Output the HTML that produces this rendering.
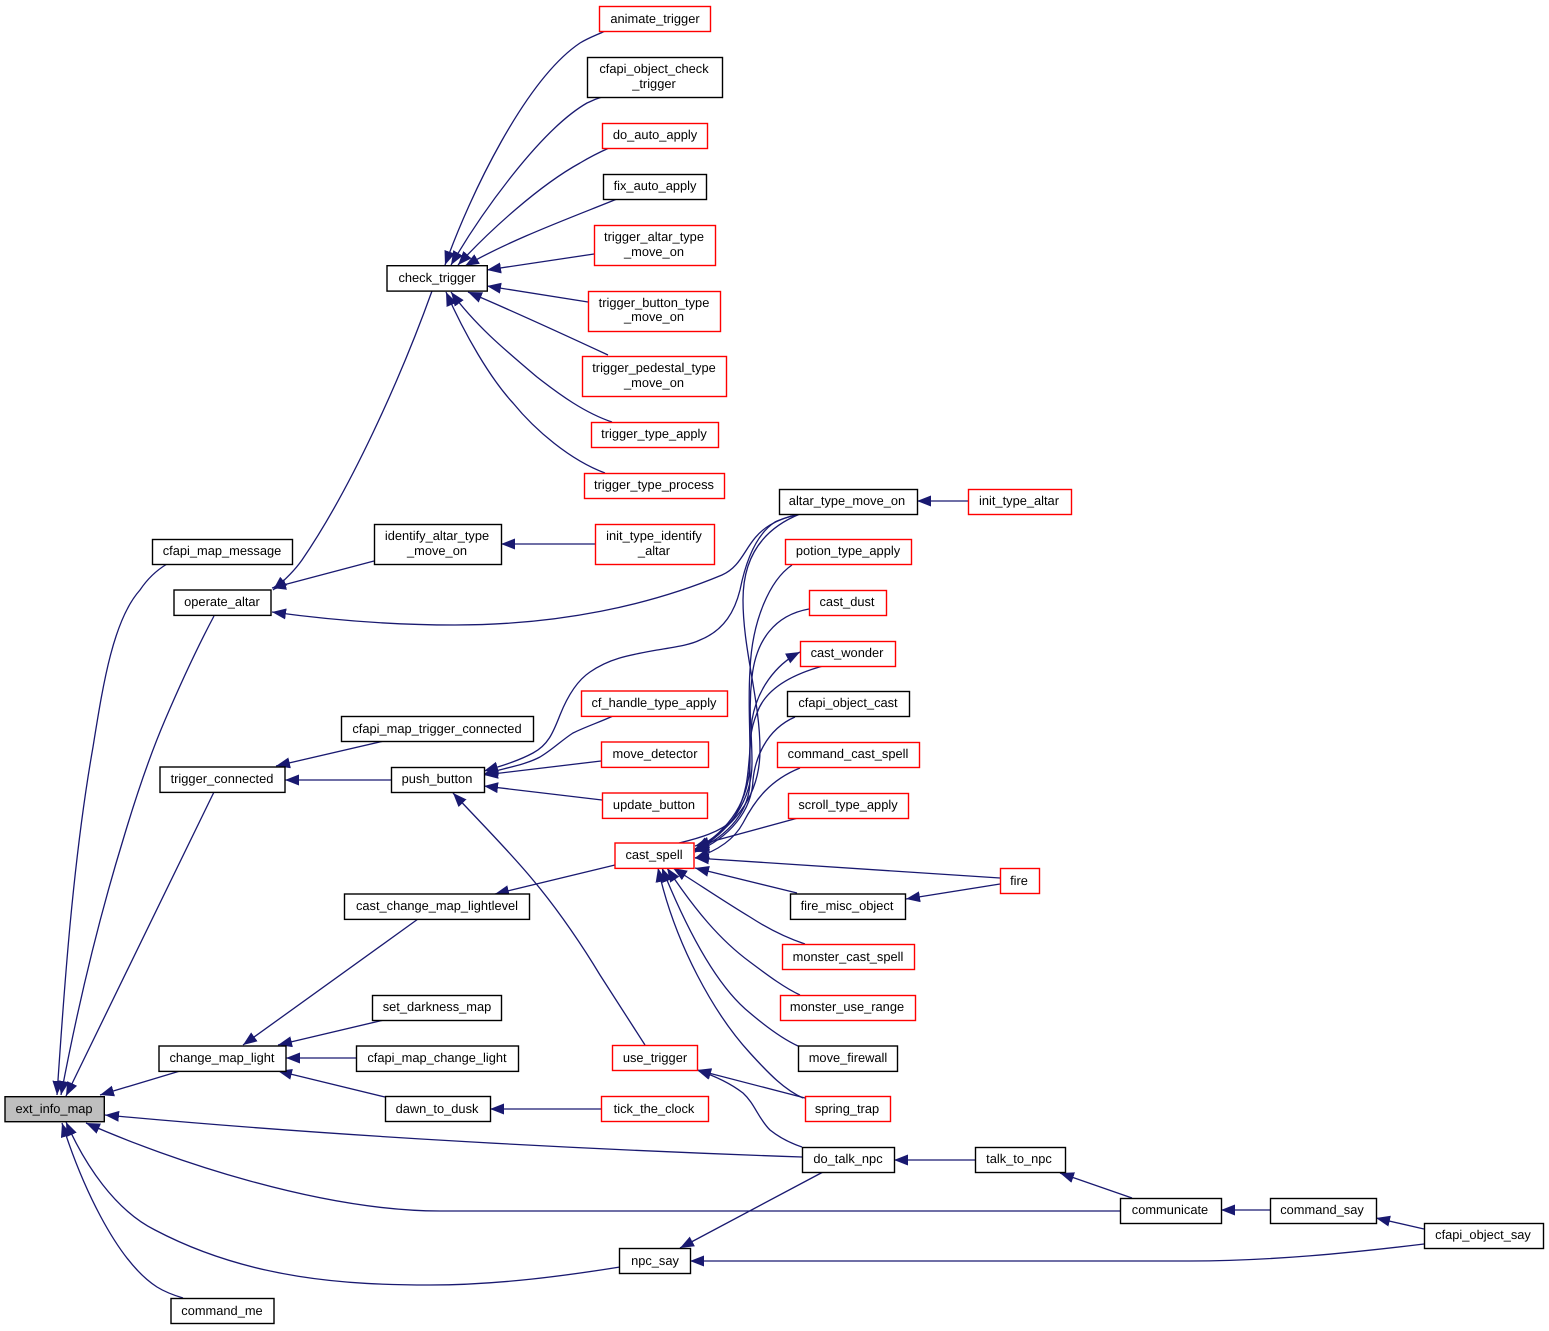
<!DOCTYPE html>
<html><head><meta charset="utf-8"><style>
html,body{margin:0;padding:0;background:#fff}
svg{display:block}
text{font-family:"Liberation Sans",sans-serif;font-size:12.85px;text-anchor:middle;fill:#000;text-rendering:geometricPrecision}
.e{fill:none;stroke:#191970;stroke-width:1.3;marker-start:url(#a)}
rect{stroke-width:1.4;fill:#fff;stroke:#000}
rect.r{stroke:#f00}
rect.g{fill:#bfbfbf}
</style></head><body>
<svg width="1549" height="1331" viewBox="0 0 1549 1331" xmlns="http://www.w3.org/2000/svg">
<defs><marker id="a" markerUnits="userSpaceOnUse" markerWidth="15" markerHeight="12" refX="14" refY="5.5" orient="auto-start-reverse"><path d="M0,0L14,5.5L0,11z" fill="#191970"/></marker></defs>
<path class="e" d="M57,1095C64,990 73,860 93,747C103,685 113,620 140,590C148,578 157,570 167,564"/>
<path class="e" d="M61,1095C78,1005 100,915 123,840C137,793 150,755 165,720C180,685 197,648 214,616"/>
<path class="e" d="M66,1096L214,792"/>
<path class="e" d="M100,1095L180,1071"/>
<path class="e" d="M105,1115C340,1137 600,1150 802,1157"/>
<path class="e" d="M86,1123C170,1160 320,1211 440,1211L1120,1211"/>
<path class="e" d="M66,1122C85,1165 115,1210 155,1230C250,1280 350,1285 430,1285C500,1285 570,1275 620,1267"/>
<path class="e" d="M62,1123C80,1180 115,1260 157,1287C165,1292 173,1295 183,1298"/>
<path class="e" d="M273,590C285,580 295,570 302,560C350,490 400,380 432,291"/>
<path class="e" d="M272,588L374,561"/>
<path class="e" d="M272,612C330,620 390,625 455,625C560,625 650,605 722,575C745,565 745,540 770,525C780,519 790,516 800,514"/>
<path class="e" d="M445,265C470,195 525,80 580,43C590,37 597,35 605,31"/>
<path class="e" d="M451,265C480,215 540,130 587,103C594,100 597,98 603,97"/>
<path class="e" d="M458,265C490,230 540,185 580,163C590,157 600,152 609,148"/>
<path class="e" d="M465,266C510,240 570,218 617,199"/>
<path class="e" d="M487,270L594,254"/>
<path class="e" d="M487,286L588,302"/>
<path class="e" d="M468,292C515,312 565,335 608,355"/>
<path class="e" d="M451,292C475,325 505,350 537,377C560,395 585,413 612,422"/>
<path class="e" d="M446,292C465,335 490,378 513,403C535,430 570,460 605,473"/>
<path class="e" d="M501,544L595,544"/>
<path class="e" d="M917,501L968,501"/>
<path class="e" d="M276,766L384,741"/>
<path class="e" d="M285,780L391,780"/>
<path class="e" d="M484,771C505,765 520,760 533,753C548,745 553,733 560,715C568,695 578,680 590,672C610,658 630,655 657,650C675,647 690,645 700,640C725,630 735,610 740,590C745,565 755,535 775,522C783,518 792,516 800,514"/>
<path class="e" d="M484,774C505,768 525,765 540,757C552,750 562,740 573,733C585,727 600,722 613,716"/>
<path class="e" d="M484,775L601,761"/>
<path class="e" d="M484,786L602,800"/>
<path class="e" d="M453,793C480,822 510,852 533,880C560,912 585,950 600,975L645,1045"/>
<path class="e" d="M495,894L615,865"/>
<path class="e" d="M243,1045L418,919"/>
<path class="e" d="M278,1045L384,1020"/>
<path class="e" d="M286,1058L356,1058"/>
<path class="e" d="M278,1071L385,1097"/>
<path class="e" d="M490,1109L601,1109"/>
<path class="e" d="M800,652C775,665 757,690 752,720C748,770 750,790 733,820C720,832 700,838 679,843"/>
<path class="e" d="M695,849C730,830 760,800 760,750C760,700 743,650 743,600C743,560 760,530 800,514"/>
<path class="e" d="M695,850C730,830 750,800 750,760C750,720 748,700 750,670C752,620 770,580 792,565"/>
<path class="e" d="M695,851C730,832 752,800 752,763C752,730 748,710 752,677C756,640 775,615 809,609"/>
<path class="e" d="M695,851C730,835 750,810 750,780C750,750 748,735 757,713C765,690 790,675 823,666"/>
<path class="e" d="M695,852C730,838 752,810 753,780C755,760 765,730 795,717"/>
<path class="e" d="M695,858C720,850 735,838 743,823C755,800 770,780 800,768"/>
<path class="e" d="M695,846L798,818"/>
<path class="e" d="M695,858L1000,878"/>
<path class="e" d="M695,868L797,893"/>
<path class="e" d="M906,899L1000,884"/>
<path class="e" d="M673,868C700,885 725,902 750,917C770,930 790,939 805,944"/>
<path class="e" d="M667,868C695,910 720,940 750,962C770,977 785,988 800,995"/>
<path class="e" d="M662,868C685,925 715,985 750,1013C770,1030 785,1040 798,1046"/>
<path class="e" d="M658,868C675,945 715,1015 750,1053C770,1075 785,1090 803,1098"/>
<path class="e" d="M697,1070L805,1098"/>
<path class="e" d="M697,1070C715,1076 730,1083 743,1093C755,1104 758,1118 770,1130C780,1138 790,1143 802,1147"/>
<path class="e" d="M894,1160L975,1160"/>
<path class="e" d="M1060,1173L1132,1198"/>
<path class="e" d="M1221,1210L1270,1210"/>
<path class="e" d="M1376,1218L1424,1229"/>
<path class="e" d="M680,1248L823,1172"/>
<path class="e" d="M690,1261L1190,1261C1270,1261 1350,1253 1424,1244"/>

<rect class="r" x="599.5" y="6.5" width="111" height="25"/><text x="655" y="23">animate_trigger</text>
<rect x="587.5" y="57.5" width="135" height="40"/><text x="654" y="73">cfapi_object_check</text><text x="654" y="88">_trigger</text>
<rect class="r" x="602.5" y="123.5" width="105" height="25"/><text x="655" y="139">do_auto_apply</text>
<rect x="603.5" y="174.5" width="103" height="25"/><text x="655" y="190">fix_auto_apply</text>
<rect class="r" x="594.5" y="225.5" width="121" height="40"/><text x="654" y="241">trigger_altar_type</text><text x="654" y="256">_move_on</text>
<rect class="r" x="588.5" y="291.5" width="132" height="40"/><text x="654" y="307">trigger_button_type</text><text x="654" y="321">_move_on</text>
<rect class="r" x="582.5" y="356.5" width="144" height="40"/><text x="654" y="372">trigger_pedestal_type</text><text x="654" y="387">_move_on</text>
<rect class="r" x="591.5" y="422.5" width="127" height="25"/><text x="654" y="438">trigger_type_apply</text>
<rect class="r" x="584.5" y="473.5" width="140" height="25"/><text x="654" y="489">trigger_type_process</text>
<rect x="387" y="265.7" width="100.3" height="25.4"/><text x="437" y="282">check_trigger</text>
<rect x="779.5" y="489.5" width="138" height="25"/><text x="847" y="505">altar_type_move_on</text>
<rect class="r" x="968.5" y="489.5" width="103" height="25"/><text x="1019" y="505">init_type_altar</text>
<rect class="r" x="785.5" y="539.5" width="126" height="25"/><text x="848" y="555">potion_type_apply</text>
<rect class="r" x="809.5" y="590.5" width="77" height="25"/><text x="847" y="606">cast_dust</text>
<rect class="r" x="800.5" y="641.5" width="95" height="25"/><text x="847" y="657">cast_wonder</text>
<rect x="787.5" y="691.5" width="122" height="25"/><text x="848" y="707">cfapi_object_cast</text>
<rect class="r" x="777.5" y="742.5" width="142" height="25"/><text x="848" y="758">command_cast_spell</text>
<rect class="r" x="788.5" y="793.5" width="120" height="25"/><text x="848" y="809">scroll_type_apply</text>
<rect class="r" x="1000.5" y="868.5" width="39" height="25"/><text x="1019" y="885">fire</text>
<rect x="790.5" y="894" width="115" height="25.4"/><text x="847" y="910">fire_misc_object</text>
<rect class="r" x="782.5" y="944.5" width="132" height="25"/><text x="848" y="961">monster_cast_spell</text>
<rect class="r" x="780.5" y="995.5" width="135" height="25"/><text x="847" y="1011">monster_use_range</text>
<rect x="798.5" y="1046" width="99" height="25.4"/><text x="848" y="1062">move_firewall</text>
<rect class="r" x="805.5" y="1096.5" width="85" height="25"/><text x="847" y="1113">spring_trap</text>
<rect x="802.5" y="1147.5" width="92" height="25"/><text x="848" y="1163">do_talk_npc</text>
<rect x="975.5" y="1147.5" width="90" height="25"/><text x="1019" y="1163">talk_to_npc</text>
<rect x="1120.5" y="1198.5" width="101" height="25"/><text x="1170" y="1214">communicate</text>
<rect x="1270.5" y="1198.5" width="106" height="25"/><text x="1322" y="1214">command_say</text>
<rect x="1424.5" y="1223.5" width="119" height="25"/><text x="1483" y="1239">cfapi_object_say</text>
<rect class="r" x="615" y="843" width="79" height="25.4"/><text x="654" y="859">cast_spell</text>
<rect class="r" x="612.5" y="1045.5" width="85" height="25"/><text x="655" y="1062">use_trigger</text>
<rect class="r" x="601.5" y="1096.5" width="107" height="25"/><text x="654" y="1113">tick_the_clock</text>
<rect x="619.5" y="1248.5" width="71" height="25"/><text x="655" y="1265">npc_say</text>
<rect class="r" x="581.5" y="691" width="146" height="25.4"/><text x="654" y="707">cf_handle_type_apply</text>
<rect class="r" x="601.5" y="742" width="107" height="25.4"/><text x="655" y="758">move_detector</text>
<rect class="r" x="602.5" y="793" width="105" height="25.4"/><text x="654" y="809">update_button</text>
<rect class="r" x="595.5" y="524.5" width="119" height="40"/><text x="654" y="540">init_type_identify</text><text x="654" y="555">_altar</text>
<rect x="374.5" y="524.5" width="127" height="40"/><text x="437" y="540">identify_altar_type</text><text x="437" y="555">_move_on</text>
<rect x="341.5" y="716.5" width="192" height="25"/><text x="437" y="733">cfapi_map_trigger_connected</text>
<rect x="391.5" y="767.5" width="93" height="25"/><text x="437" y="783">push_button</text>
<rect x="344.5" y="894" width="185" height="25.4"/><text x="437" y="910">cast_change_map_lightlevel</text>
<rect x="372.5" y="995.5" width="129" height="25"/><text x="437" y="1011">set_darkness_map</text>
<rect x="356.5" y="1046" width="162" height="25.4"/><text x="437" y="1062">cfapi_map_change_light</text>
<rect x="385.5" y="1096.5" width="105" height="25"/><text x="437" y="1113">dawn_to_dusk</text>
<rect x="152.5" y="539.5" width="140" height="25"/><text x="222" y="555">cfapi_map_message</text>
<rect x="174" y="590" width="97" height="25.4"/><text x="222" y="606">operate_altar</text>
<rect x="160" y="767" width="125" height="25.4"/><text x="222" y="783">trigger_connected</text>
<rect x="159" y="1046" width="127" height="25.4"/><text x="222" y="1062">change_map_light</text>
<rect class="g" x="5" y="1096.7" width="99.3" height="25"/><text x="54" y="1113">ext_info_map</text>
<rect x="171" y="1298.5" width="103" height="25"/><text x="222" y="1315">command_me</text>
</svg>
</body></html>
